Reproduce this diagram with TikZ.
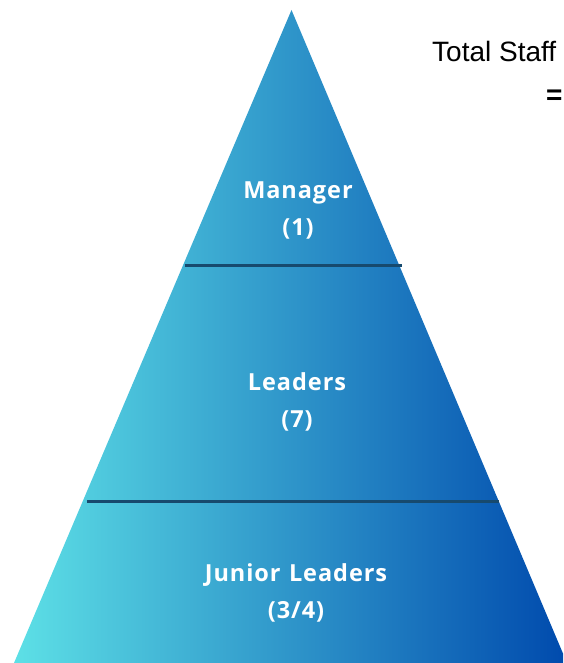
\documentclass[tikz,border=0pt]{standalone}
\usepackage{fontspec}
\setmainfont{Open Sans}
\newfontfamily\labelfont[LetterSpace=4,WordSpace=1.2]{Open Sans Bold}
\newfontfamily\arialfont{Liberation Sans}
\usetikzlibrary{calc}
\definecolor{cL}{HTML}{5DE0E6}
\definecolor{cR}{HTML}{004AAD}
\definecolor{divider}{HTML}{174A6E}
\tikzset{
  tierlabel/.style={text=white, align=center, inner sep=0pt,
    font=\labelfont\fontsize{23.5}{37}\selectfont},
  divline/.style={draw=divider, line width=3pt},
  sidetext/.style={text=black, inner sep=0pt, font=\arialfont\fontsize{28}{32}\selectfont}
}
\begin{document}
\begin{tikzpicture}[x=1pt,y=1pt]
\useasboundingbox (0,0) rectangle (563,663);
\clip (0,0) rectangle (563,663);
\coordinate (apex) at (291.5,653);
\coordinate (bl) at (14,0);
\coordinate (br) at (567,0);
\shade[left color=cL, right color=cR] (apex) -- (bl) -- (br) -- cycle;
% dividers
\coordinate (d1l) at ($(apex)!0.392!(bl)$);
\coordinate (d1r) at ($(apex)!0.392!(br)$);
\coordinate (d2l) at ($(apex)!0.752!(bl)$);
\coordinate (d2r) at ($(apex)!0.752!(br)$);
\draw[divline] ($(d1l)+(2,0)$) coordinate (d1a) -- ($(d1r)+(2,0)$) coordinate (d1b);
\draw[divline] ($(d2l)+(4,0)$) coordinate (d2a) -- ($(d2r)+(0,0)$) coordinate (d2b);
% labels
\node[tierlabel] (manager) at (298,453) {Manager\\(1)};
\node[tierlabel] (leaders) at (297,261) {Leaders\\(7)};
\node[tierlabel] (junior) at (296,70) {Junior Leaders\\(3/4)};
% side text
\node[sidetext, anchor=base west] (total) at (432,601) {Total Staff};
\node[sidetext, anchor=west, font=\arialfont\bfseries\fontsize{28}{32}\selectfont] (eq) at (546,566) {=};
\end{tikzpicture}
\end{document}
